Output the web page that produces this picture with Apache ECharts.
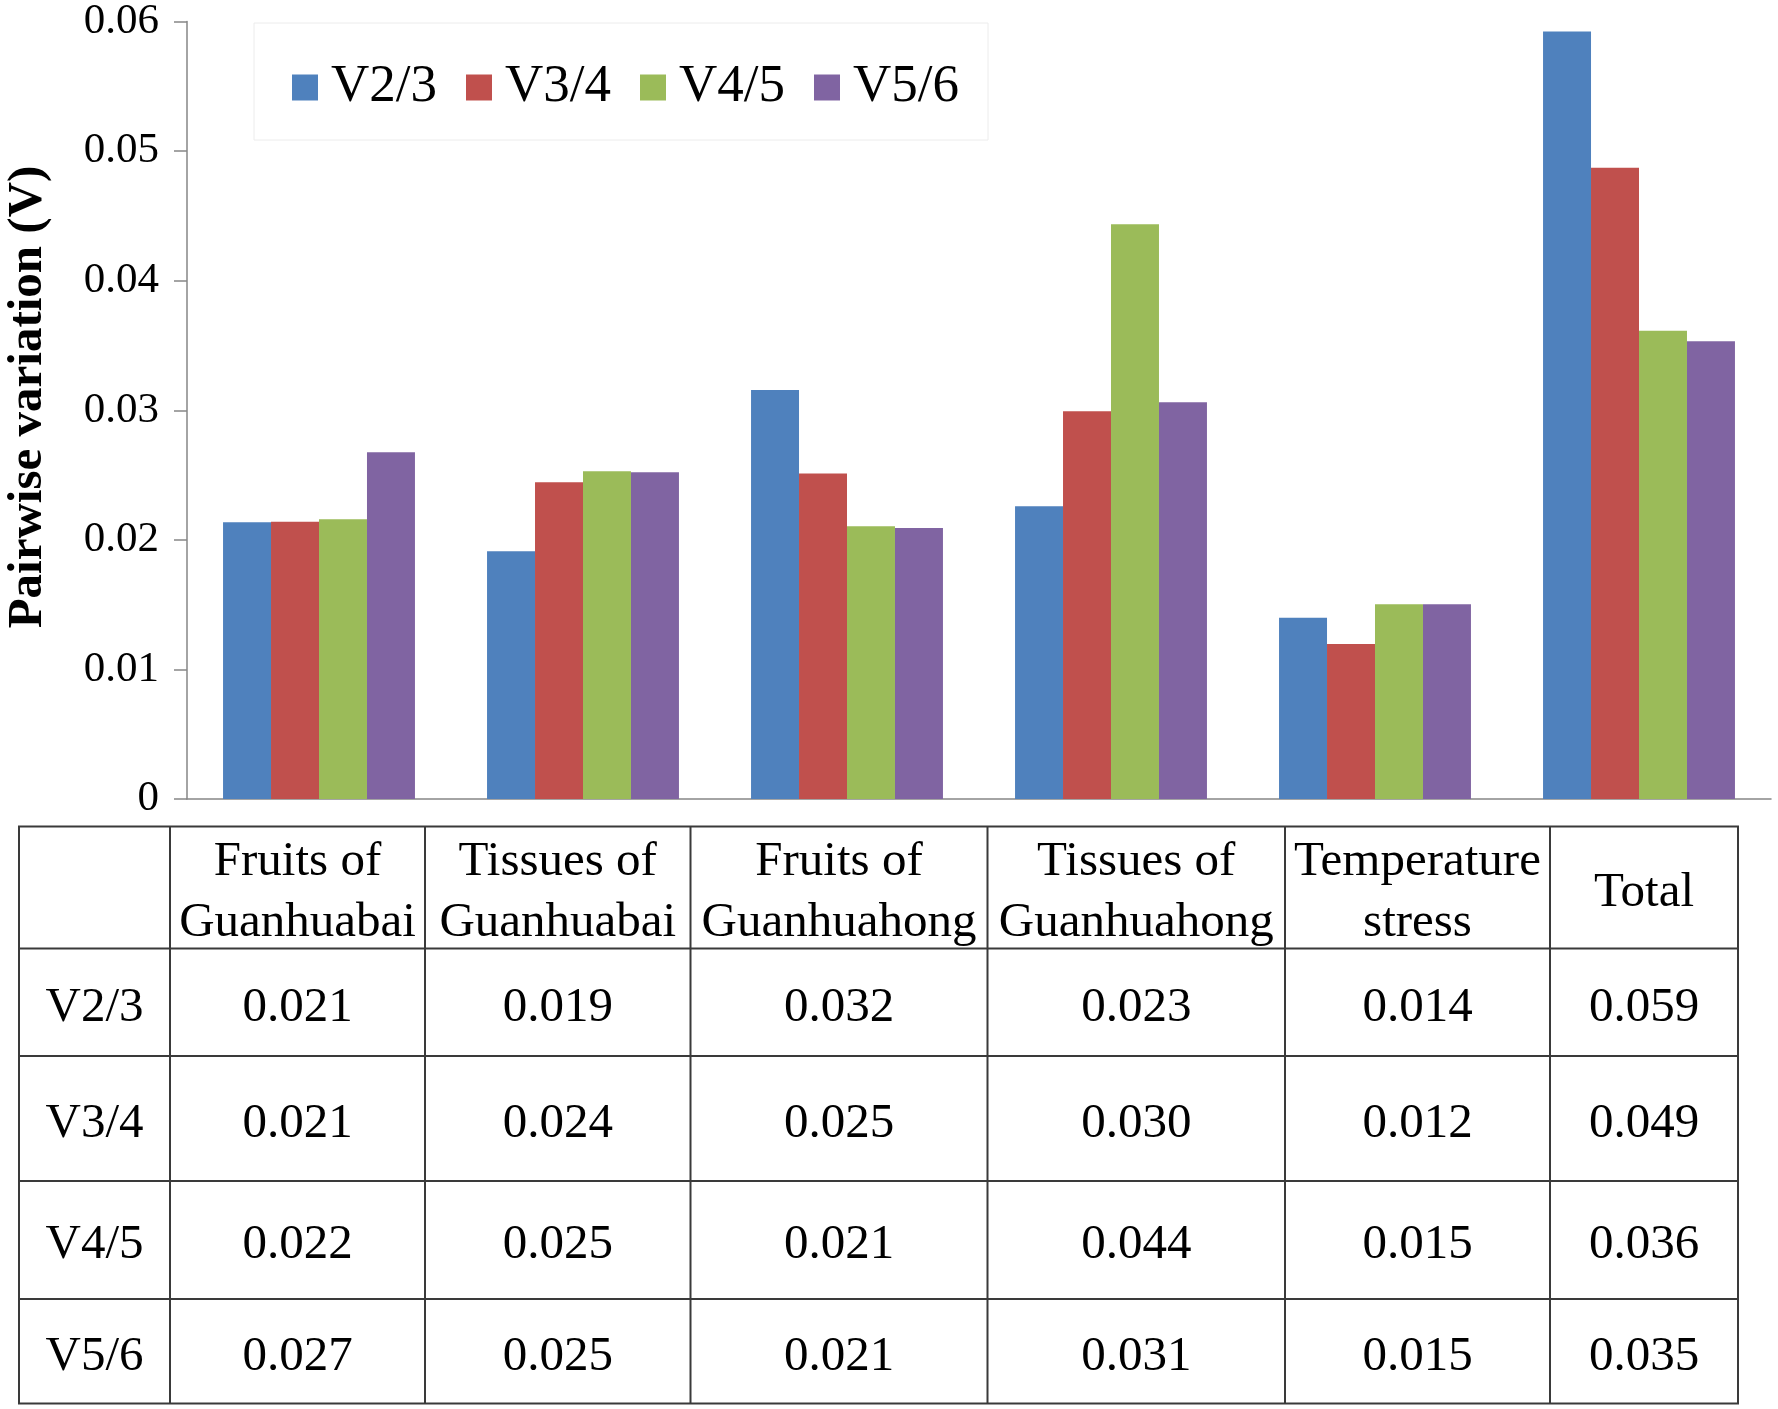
<!DOCTYPE html>
<html>
<head>
<meta charset="utf-8">
<script src="https://cdn.jsdelivr.net/npm/echarts@6/dist/echarts.min.js"></script>
<style>
  html, body { margin: 0; padding: 0; background: #fff; }
  #chart { width: 1778px; height: 1409px; }
</style>
</head>
<body>
<div id="chart"></div>
<script>
// ---- data ----
const categories = ['Fruits of\nGuanhuabai', 'Tissues of\nGuanhuabai', 'Fruits of\nGuanhuahong', 'Tissues of\nGuanhuahong', 'Temperature\nstress', 'Total'];
const seriesNames = ['V2/3', 'V3/4', 'V4/5', 'V5/6'];
const v23 = [0.02135, 0.01911, 0.03156, 0.02259, 0.01399, 0.05922];
const v34 = [0.02140, 0.02444, 0.02511, 0.02992, 0.01196, 0.04872];
const v45 = [0.02158, 0.02529, 0.02104, 0.04435, 0.01502, 0.03614];
const v56 = [0.02675, 0.02521, 0.02091, 0.03061, 0.01502, 0.03532];
// values printed in the table under the chart
const t23 = ['0.021', '0.019', '0.032', '0.023', '0.014', '0.059'];
const t34 = ['0.021', '0.024', '0.025', '0.030', '0.012', '0.049'];
const t45 = ['0.022', '0.025', '0.021', '0.044', '0.015', '0.036'];
const t56 = ['0.027', '0.025', '0.021', '0.031', '0.015', '0.035'];
const yTitle = 'Pairwise variation (V)';
const yMin = 0, yMax = 0.06, yStep = 0.01;

// ---- styling / layout ----
const FONT = "'Liberation Serif', 'Times New Roman', serif";
const colors = ['#4F81BD', '#C0504D', '#9BBB59', '#8064A2'];
const seriesValues = [v23, v34, v45, v56];
const tableValues = [t23, t34, t45, t56];
const colX = [19, 170, 425, 690.5, 987.5, 1285, 1550, 1738];
const rowY = [826.5, 948.5, 1056, 1181, 1299, 1403.5];

const chart = echarts.init(document.getElementById('chart'), null, { renderer: 'canvas' });

const graphics = [];
const lineStyle = { stroke: '#3a3a3a', lineWidth: 2 };
rowY.forEach(y => graphics.push({
  type: 'line', silent: true, z: 10,
  shape: { x1: colX[0] - 1, y1: y, x2: colX[colX.length - 1] + 1, y2: y },
  style: lineStyle
}));
colX.forEach(x => graphics.push({
  type: 'line', silent: true, z: 10,
  shape: { x1: x, y1: rowY[0], x2: x, y2: rowY[rowY.length - 1] },
  style: lineStyle
}));
function cellText(str, x, y) {
  return {
    type: 'text', silent: true, z: 11, x: x, y: y,
    style: {
      text: str, fontFamily: FONT, fontSize: 49, fill: '#000',
      align: 'center', verticalAlign: 'middle', lineHeight: 61
    }
  };
}
const tOff = 5.5;
categories.forEach((c, i) => {
  graphics.push(cellText(c, (colX[i + 1] + colX[i + 2]) / 2, (rowY[0] + rowY[1]) / 2 + tOff));
});
seriesNames.forEach((s, r) => {
  const cy = (rowY[r + 1] + rowY[r + 2]) / 2 + tOff;
  graphics.push(cellText(s, (colX[0] + colX[1]) / 2, cy));
  tableValues[r].forEach((v, i) => {
    graphics.push(cellText(v, (colX[i + 1] + colX[i + 2]) / 2, cy));
  });
});
// rotated y-axis title
graphics.push({
  type: 'text', silent: true, z: 11, x: 28, y: 397, rotation: Math.PI / 2,
  style: {
    text: yTitle, fontFamily: FONT, fontSize: 49, fontWeight: 'bold', fill: '#000',
    align: 'center', verticalAlign: 'middle'
  }
});

const option = {
  backgroundColor: '#ffffff',
  animation: false,
  grid: { left: 187, right: 7, top: 21.5, bottom: 610 },
  legend: {
    data: seriesNames,
    left: 254, top: 23,
    padding: [38, 29, 26, 38],
    itemWidth: 26, itemHeight: 26, itemGap: 29,
    icon: 'rect',
    borderColor: '#ececec', borderWidth: 1,
    textStyle: { fontFamily: FONT, fontSize: 53, lineHeight: 53, color: '#000', padding: [0, 0, 0, 8] }
  },
  xAxis: {
    type: 'category',
    data: categories,
    axisLine: { show: true, lineStyle: { color: '#868686', width: 1.5 } },
    axisTick: { show: false },
    axisLabel: { show: false },
    splitLine: { show: false }
  },
  yAxis: {
    type: 'value',
    min: yMin, max: yMax, interval: yStep,
    axisLine: { show: true, lineStyle: { color: '#868686', width: 1.5 } },
    axisTick: { show: true, length: 13, lineStyle: { color: '#868686', width: 1.5 } },
    splitLine: { show: false },
    axisLabel: {
      margin: 28, fontFamily: FONT, fontSize: 43, color: '#000',
      formatter: v => (v === 0 ? '0' : v.toFixed(2))
    }
  },
  series: seriesNames.map((name, i) => ({
    name: name,
    type: 'bar',
    data: seriesValues[i],
    barGap: '0%',
    barCategoryGap: '27.3%',
    itemStyle: { color: colors[i] }
  })),
  graphic: { elements: graphics }
};
chart.setOption(option);
</script>
</body>
</html>
